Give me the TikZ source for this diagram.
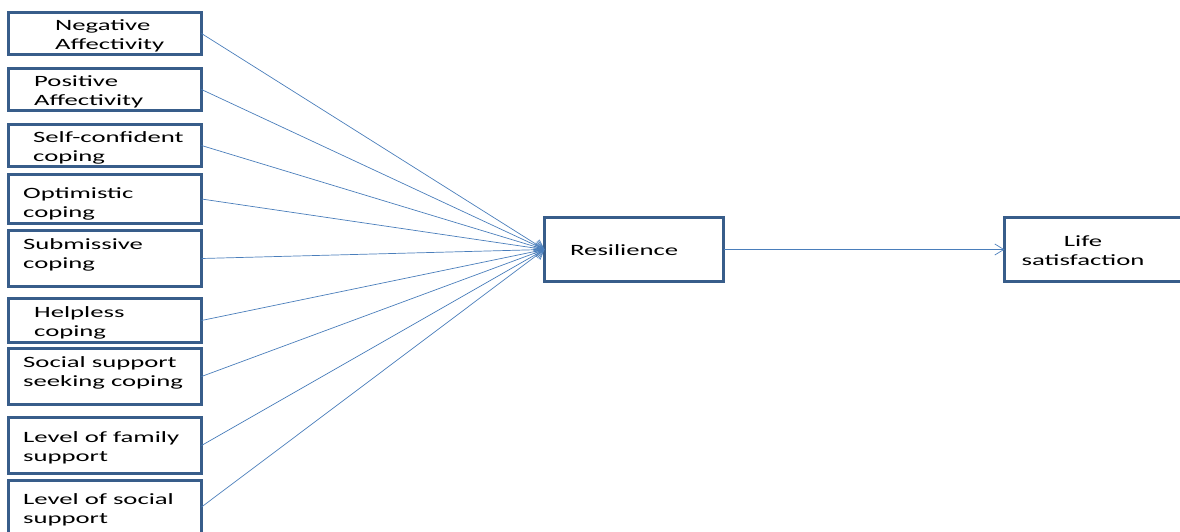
\documentclass[tikz,border=0pt]{standalone}
\usepackage{fontspec}
\setmainfont{Carlito}[FakeStretch=1.7]
\usetikzlibrary{arrows.meta}
\definecolor{boxblue}{HTML}{385D8A}
\definecolor{lineblue}{HTML}{4A7EBB}
\tikzset{
  box/.style={draw=boxblue, line width=2.6pt, rectangle, inner sep=0pt, outer sep=0pt},
  txt/.style={inner sep=0pt, anchor=west, align=left, font=\fontsize{15.7}{19}\selectfont, text=black},
  conn/.style={draw=lineblue, line width=0.7pt},
  tip/.style={-{Straight Barb[length=9pt,width=11pt,line width=0.7pt]}}
}
\newcommand{\mybox}[5]{% name, x1, y1, x2, y2
  \node[box, minimum width={#4-#2}, minimum height={#5-#3}] (#1) at ({(#2+#4)/2},{(#3+#5)/2}) {};}
\begin{document}
\begin{tikzpicture}[x=1pt,y=-1pt]
\useasboundingbox (0,0) rectangle (1180,532);
\clip (0,0) rectangle (1180,532);
\mybox{b1}{8.5}{12.5}{201.5}{54.5}
\mybox{b2}{8.5}{68.5}{201.5}{110.5}
\mybox{b3}{8.5}{124.5}{201.5}{166.5}
\mybox{b4}{8.5}{174.5}{201.5}{223.5}
\mybox{b5}{8.5}{230.5}{201.5}{286.5}
\mybox{b6}{8.5}{298.5}{201.5}{342.5}
\mybox{b7}{8.5}{348.5}{201.5}{404.5}
\mybox{b8}{8.5}{417.5}{201.5}{473.5}
\mybox{b9}{8.5}{480.5}{201.5}{545}
\mybox{res}{544.5}{217.5}{723.5}{281.5}
\mybox{life}{1004.5}{217.5}{1195}{281.5}

\node[txt] (t1) at (55,35.5) {Negative\\Affectivity};
\node[txt] (t2) at (34,91.5) {Positive\\Affectivity};
\node[txt] (t3) at (33,148) {Self-confident\\coping};
\node[txt] (t4) at (23,204) {Optimistic\\coping};
\node[txt] (t5) at (23,254.5) {Submissive\\coping};
\node[txt] (t6) at (34,322.5) {Helpless\\coping};
\node[txt] (t7) at (23,372.5) {Social support\\seeking coping};
\node[txt] (t8) at (23,447.5) {Level of family\\support};
\node[txt] (t9) at (23,510) {Level of social\\support};
\node[txt] (tr) at (570,250.5) {Resilience};
\node[txt, anchor=center, align=center] (tl) at (1083,251) {Life\\satisfaction};

\foreach \b in {b1,b2,b3,b4,b5,b6,b7,b8} {
  \draw[conn,tip] (\b.east) -- (res.west);
}
\draw[conn,tip] (b9.east |- 0,507) -- (res.west);
\draw[conn,tip] (res.east) -- (life.west);
\end{tikzpicture}
\end{document}
